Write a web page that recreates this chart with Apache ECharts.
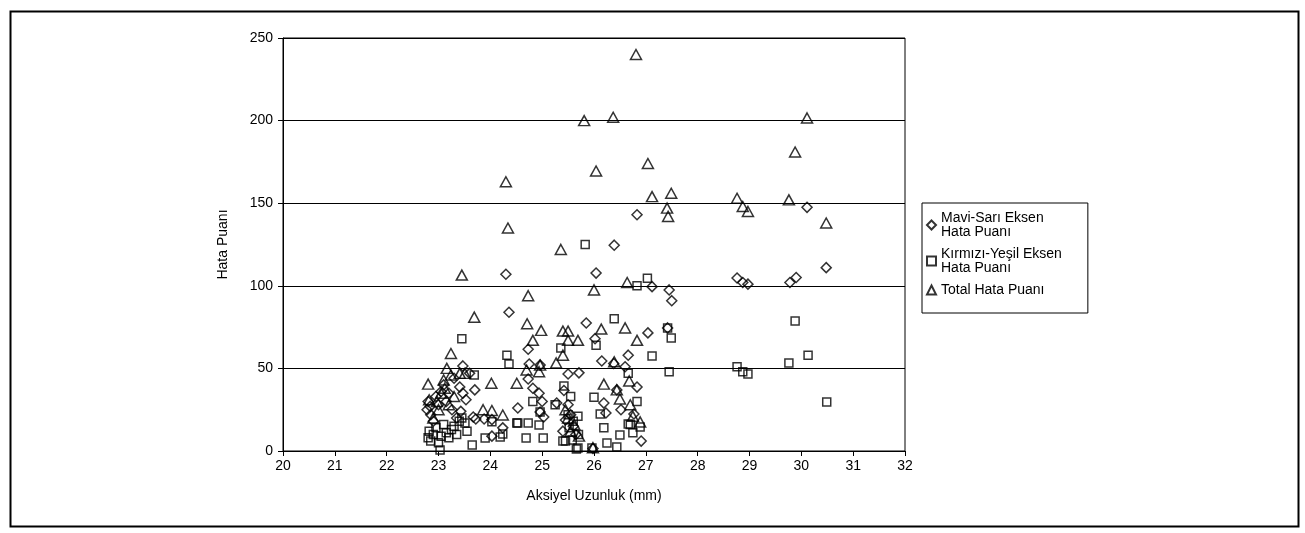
<!DOCTYPE html>
<html>
<head>
<meta charset="utf-8">
<script src="https://cdn.jsdelivr.net/npm/echarts@6/dist/echarts.min.js"></script>
<style>
html,body{margin:0;padding:0;background:#fff;}
#chart{width:1305px;height:533px;}
</style>
</head>
<body>
<div id="chart"></div>
<script>
const xTicks = [20,21,22,23,24,25,26,27,28,29,30,31,32];
const yTicks = [0,50,100,150,200,250];
const seriesNames = ['Mavi-Sarı Eksen\nHata Puanı','Kırmızı-Yeşil Eksen\nHata Puanı','Total Hata Puanı'];

const maviSari = [
 [22.78,25],[22.84,27],[22.8,30],[22.85,22],[22.9,18],[22.95,33],[23.0,28],[23.05,36],[23.1,40],
 [23.15,30],[23.2,35],[23.26,25],[23.3,44],[23.35,20],[23.41,38.7],[23.43,24],[23.47,35],[23.47,51.5],
 [23.53,31],[23.6,47],[23.67,20.6],[23.7,37],[23.72,19.4],[23.88,19.4],[24.03,19],[24.03,9],[24.24,14],
 [24.3,107],[24.36,84],[24.53,26],[24.73,61.6],[24.75,52.7],[24.73,43.6],[24.82,38],[24.94,35],[24.96,52],
 [25.0,30],[24.96,23.6],[25.03,20.6],[25.28,29],[25.42,36.6],[25.45,18.8],[25.5,28],[25.55,22],[25.6,15],
 [25.65,10],[25.4,12],[25.5,46.6],[25.71,47.3],[25.85,77.5],[25.98,1.5],[26.02,68],[26.04,107.7],[26.15,54.5],
 [26.19,29],[26.23,23],[26.39,124.6],[26.38,53],[26.44,37],[26.52,25],[26.6,51],[26.66,58],[26.77,22.4],
 [26.83,38.7],[26.83,143],[26.91,6],[27.04,71.5],[27.12,99.5],[27.42,74.5],[27.45,97.5],[27.5,91],
 [28.76,104.7],[28.87,102],[28.97,101],[29.78,102],[29.9,105],[30.11,147.5],[30.48,111]
];

const kirmiziYesil = [
 [22.8,8],[22.82,12],[22.85,6],[22.9,10],[22.95,14],[23.0,5],[23.03,0.6],[23.05,9],[23.1,16],[23.15,11],
 [23.2,8],[23.25,13],[23.3,15],[23.35,10],[23.4,18],[23.45,20],[23.45,68],[23.51,17],[23.55,12],[23.65,3.6],
 [23.69,46],[23.9,7.9],[24.03,17.7],[24.19,8.5],[24.24,10.3],[24.32,58],[24.36,52.7],[24.51,17],[24.53,17],
 [24.69,7.9],[24.73,17],[24.82,30],[24.94,15.7],[24.96,23.6],[25.02,7.9],[25.25,28],[25.36,62.4],[25.42,39.3],
 [25.4,6],[25.45,6],[25.52,14],[25.5,22],[25.55,33],[25.58,6.6],[25.6,18],[25.66,1.2],[25.69,21],[25.69,1.8],
 [25.7,10],[25.83,125],[25.96,1.8],[26.0,32.6],[26.04,64],[26.12,22.4],[26.19,14],[26.25,4.8],[26.39,80],
 [26.44,2.4],[26.5,9.7],[26.66,16.3],[26.66,47],[26.7,16],[26.75,11],[26.83,30],[26.83,100],[26.89,14.5],
 [27.03,104.5],[27.12,57.5],[27.42,74.5],[27.45,48],[27.49,68.4],[28.76,51],[28.87,48],[28.97,46.6],
 [29.76,53.3],[29.88,78.7],[30.13,58],[30.49,29.7]
];

const totalHata = [
 [22.8,40.5],[22.82,31],[22.9,20],[22.97,30],[23.0,25],[23.05,35],[23.1,43],[23.12,38],[23.16,50],[23.2,28],
 [23.24,59],[23.24,46],[23.3,33],[23.41,47],[23.45,106.5],[23.51,47],[23.69,81],[23.86,25],[24.02,41],
 [24.03,24.5],[24.24,21.8],[24.3,163],[24.34,135],[24.51,41],[24.7,49],[24.71,77],[24.73,94],[24.82,67],
 [24.94,48],[24.96,52],[24.98,73],[25.27,53.3],[25.36,122],[25.4,58],[25.4,72.6],[25.5,72.6],[25.5,67],
 [25.69,67],[25.45,25],[25.5,20],[25.55,12],[25.71,9],[25.62,16],[25.81,200],[25.98,2],[26.0,97.5],[26.04,169.5],
 [26.14,73.8],[26.19,40.5],[26.37,202],[26.39,54],[26.44,37],[26.5,31.5],[26.6,74.5],[26.64,102],[26.68,42.4],
 [26.7,28],[26.75,21],[26.81,240],[26.83,67],[26.89,17.6],[27.04,174],[27.12,154],[27.41,147],[27.43,142],
 [27.49,156],[28.76,153],[28.87,148],[28.97,145],[29.76,152],[29.88,181],[30.11,201.6],[30.48,138]
];

const FONT = 'Liberation Sans, Arial, sans-serif';
const hollow = {color:'rgba(0,0,0,0)', borderColor:'#000', borderWidth:1.5};

const chart = echarts.init(document.getElementById('chart'), null, {renderer:'canvas'});
chart.setOption({
  backgroundColor:'#fff',
  animation:false,
  textStyle:{fontFamily:FONT, color:'#000'},
  graphic:[{
    type:'rect', left:8, top:9,
    shape:{x:0,y:0,width:1288,height:515},
    style:{fill:'none', stroke:'#000', lineWidth:2}
  }],
  grid:{left:283, right:400, top:38, bottom:82, show:true, borderColor:'#000', borderWidth:1, backgroundColor:'transparent'},
  legend:{
    orient:'vertical', left:922, top:203,
    data:seriesNames,
    itemWidth:9, itemHeight:9, itemGap:8,
    padding:[8,26,16,4],
    borderColor:'#000', borderWidth:1,
    textStyle:{fontFamily:FONT, fontSize:14, color:'#000', lineHeight:14}
  },
  xAxis:{
    type:'value', min:xTicks[0], max:xTicks[xTicks.length-1], interval:1,
    name:'Aksiyel Uzunluk (mm)', nameLocation:'middle', nameGap:38,
    nameTextStyle:{fontFamily:FONT, fontSize:14, color:'#000'},
    axisLine:{show:true, lineStyle:{color:'#000', width:1}},
    axisTick:{show:true, length:5, inside:false, lineStyle:{color:'#000'}},
    axisLabel:{fontFamily:FONT, fontSize:14, color:'#000', margin:8},
    splitLine:{show:false}
  },
  yAxis:{
    type:'value', min:yTicks[0], max:yTicks[yTicks.length-1], interval:50,
    name:'Hata Puanı', nameLocation:'middle', nameGap:53, nameRotate:90,
    nameTextStyle:{fontFamily:FONT, fontSize:14, color:'#000'},
    axisLine:{show:true, lineStyle:{color:'#000', width:1}},
    axisTick:{show:true, length:5, inside:false, lineStyle:{color:'#000'}},
    axisLabel:{fontFamily:FONT, fontSize:14, color:'#000', margin:10},
    splitLine:{show:true, lineStyle:{color:'#000', width:1}}
  },
  series:[
    {name:seriesNames[0], type:'scatter', symbol:'diamond', symbolSize:[10,10], data:maviSari, itemStyle:hollow},
    {name:seriesNames[1], type:'scatter', symbol:'rect', symbolSize:[8,8], data:kirmiziYesil, itemStyle:hollow},
    {name:seriesNames[2], type:'scatter', symbol:'triangle', symbolSize:[11,10], data:totalHata, itemStyle:hollow}
  ]
});
</script>
</body>
</html>
